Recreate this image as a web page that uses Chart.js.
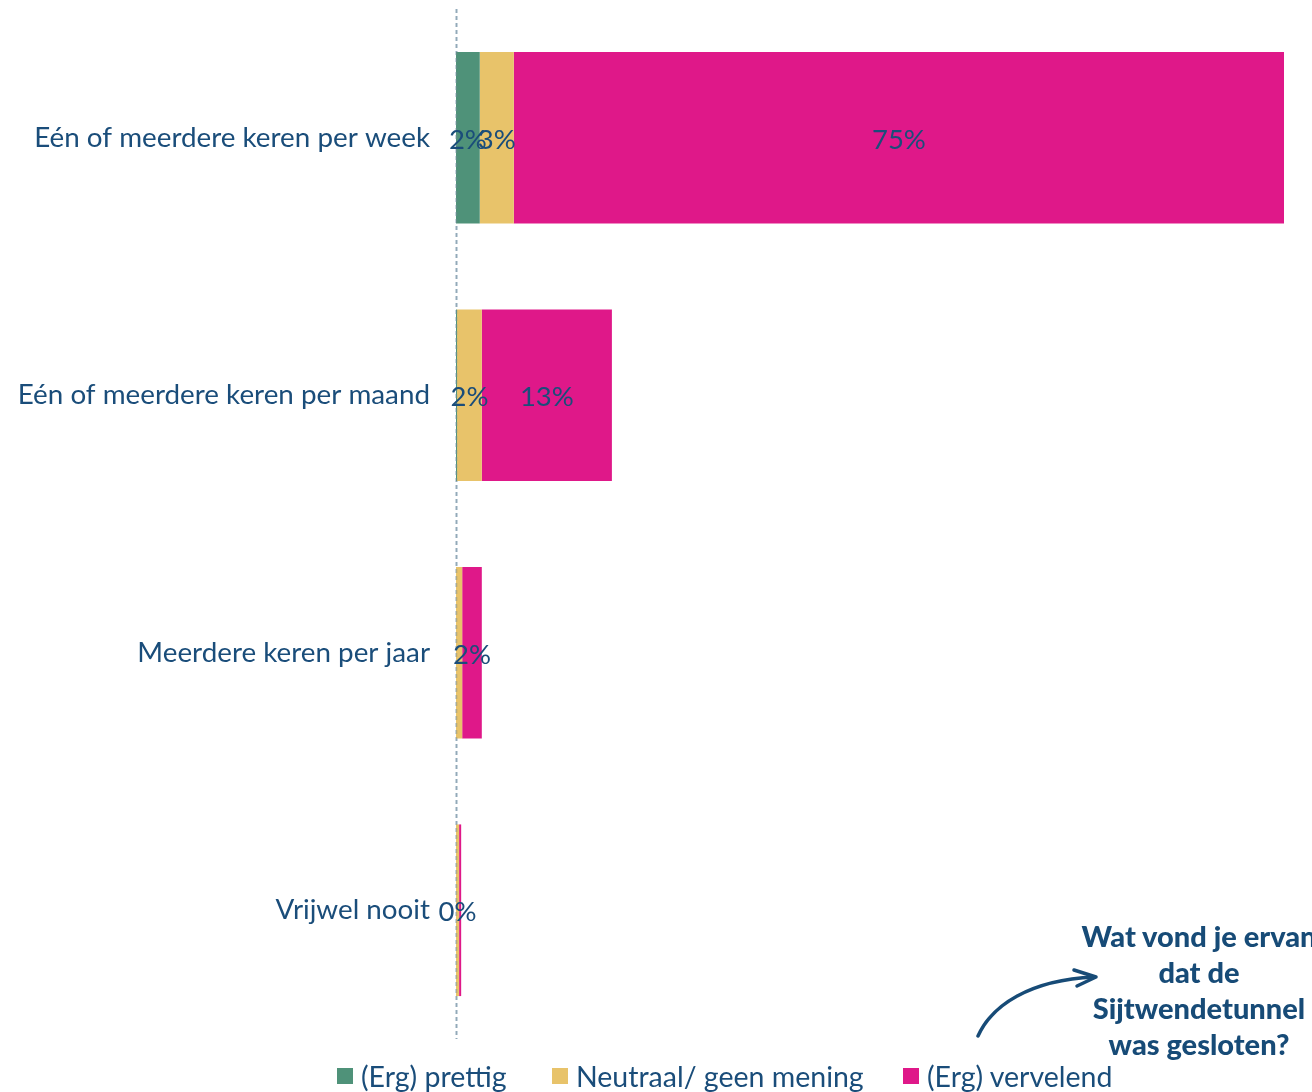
<!DOCTYPE html>
<html lang="nl">
<head>
<meta charset="utf-8">
<title>Sijtwendetunnel</title>
<script src="https://cdn.jsdelivr.net/npm/chart.js@4/dist/chart.umd.min.js"></script>
<style>
  html, body { margin: 0; padding: 0; background: #ffffff; }
  #wrap { position: relative; width: 1312px; height: 1092px; overflow: hidden; }
  #chart { position: absolute; left: 0; top: 0; }
  #legend { position: absolute; left: 0; top: 0; width: 1312px; height: 1092px; pointer-events: none; }
  #legend .item {
    position: absolute; top: 1059px; display: flex; align-items: center; white-space: nowrap;
    font-family: Lato, "Open Sans", sans-serif; font-size: 28.5px; color: #1a4d7a;
  }
  #legend .box { width: 16px; height: 16px; margin-right: 8px; }
  #note {
    position: absolute; left: 1060px; top: 918px; width: 278px; text-align: center;
    font-family: Lato, "Open Sans", sans-serif; font-weight: 900; font-size: 29px; line-height: 36px;
    color: #174b77; white-space: nowrap;
  }
  #arrow { position: absolute; left: 0; top: 0; }
</style>
</head>
<body>
<div id="wrap">
  <canvas id="chart" width="1312" height="1092"></canvas>
  <svg id="arrow" width="1312" height="1092">
    <path d="M978 1036 C 992 1005, 1030 980, 1094 977" fill="none" stroke="#174b77" stroke-width="3.5" stroke-linecap="round"/>
    <path d="M1074 970 L1096 977 L1077 986" fill="none" stroke="#174b77" stroke-width="3.5" stroke-linecap="round" stroke-linejoin="round"/>
  </svg>
  <div id="note">Wat vond je ervan<br>dat de<br>Sijtwendetunnel<br>was gesloten?</div>
  <div id="legend"></div>
</div>
<script>
// How often people travelled through the tunnel
const categories = [
  'Eén of meerdere keren per week',
  'Eén of meerdere keren per maand',
  'Meerdere keren per jaar',
  'Vrijwel nooit'
];

// Share of respondents (%) per answer
const seriesNames = ['(Erg) prettig', 'Neutraal/ geen mening', '(Erg) vervelend'];
const prettig   = [2.3, 0.1, 0.0, 0.0];
const neutraal  = [3.3, 2.4, 0.6, 0.3];
const vervelend = [74.6, 12.6, 1.9, 0.2];

// Which segments carry a value label
const showPrettig   = [true, false, false, false];
const showNeutraal  = [true, true, false, true];
const showVervelend = [true, true, true, false];

const colors = ['#4f9279', '#e8c36a', '#df1889'];
const textColor = '#1a4d7a';
const fontFamily = 'Lato, "Open Sans", sans-serif';

const datasets = [
  { label: seriesNames[0], data: prettig,   backgroundColor: colors[0], show: showPrettig },
  { label: seriesNames[1], data: neutraal,  backgroundColor: colors[1], show: showNeutraal },
  { label: seriesNames[2], data: vervelend, backgroundColor: colors[2], show: showVervelend }
].map(d => Object.assign(d, { borderWidth: 0, barPercentage: 1, categoryPercentage: 172 / 258 }));

// Dashed zero line along the category axis
const zeroLine = {
  id: 'zeroLine',
  beforeDatasetsDraw(chart) {
    const { ctx, chartArea } = chart;
    const x = chart.scales.x.getPixelForValue(0) + 0.5;
    ctx.save();
    ctx.strokeStyle = '#a9c1d2';
    ctx.lineWidth = 2;
    ctx.setLineDash([4, 3]);
    ctx.beginPath();
    ctx.moveTo(x, chartArea.top);
    ctx.lineTo(x, chartArea.bottom);
    ctx.stroke();
    ctx.restore();
  },
  afterDatasetsDraw(chart) {
    const { ctx, chartArea } = chart;
    const x = chart.scales.x.getPixelForValue(0) + 0.5;
    ctx.save();
    ctx.strokeStyle = 'rgba(120,140,150,0.45)';
    ctx.lineWidth = 1.5;
    ctx.setLineDash([4, 3]);
    ctx.beginPath();
    ctx.moveTo(x, chartArea.top);
    ctx.lineTo(x, chartArea.bottom);
    ctx.stroke();
    ctx.restore();
  }
};

// Percentage labels centred on each segment
const valueLabels = {
  id: 'valueLabels',
  afterDatasetsDraw(chart) {
    const ctx = chart.ctx;
    ctx.save();
    ctx.font = '27.5px ' + fontFamily;
    ctx.fillStyle = textColor;
    ctx.textAlign = 'center';
    ctx.textBaseline = 'middle';
    chart.data.datasets.forEach((ds, i) => {
      const meta = chart.getDatasetMeta(i);
      meta.data.forEach((bar, j) => {
        if (!ds.show[j]) return;
        const x = (bar.x + bar.base) / 2;
        ctx.fillText(Math.round(ds.data[j]) + '%', x, bar.y + 2);
      });
    });
    ctx.restore();
  }
};

new Chart(document.getElementById('chart'), {
  type: 'bar',
  data: { labels: categories, datasets },
  options: {
    indexAxis: 'y',
    responsive: false,
    animation: false,
    layout: { padding: { top: 9, right: 28, bottom: 53, left: 0 } },
    plugins: { legend: { display: false }, tooltip: { enabled: false } },
    scales: {
      x: {
        stacked: true, min: 0, max: 80.2, display: false,
        grid: { display: false }
      },
      y: {
        stacked: true,
        grid: { display: false, drawTicks: false },
        border: { display: false },
        ticks: { color: textColor, font: { family: fontFamily, size: 27.8 }, padding: 26 },
        afterFit(scale) {
          scale.width = 456;
          scale.paddingTop = 0;
          scale.paddingBottom = 0;
        }
      }
    }
  },
  plugins: [zeroLine, valueLabels]
});

// Legend row
const legend = document.getElementById('legend');
const legendX = [337, 552, 903];
seriesNames.forEach((name, i) => {
  const item = document.createElement('div');
  item.className = 'item';
  item.style.left = legendX[i] + 'px';
  const box = document.createElement('div');
  box.className = 'box';
  box.style.background = colors[i];
  const txt = document.createElement('span');
  txt.textContent = name;
  item.appendChild(box);
  item.appendChild(txt);
  legend.appendChild(item);
});
</script>
</body>
</html>
